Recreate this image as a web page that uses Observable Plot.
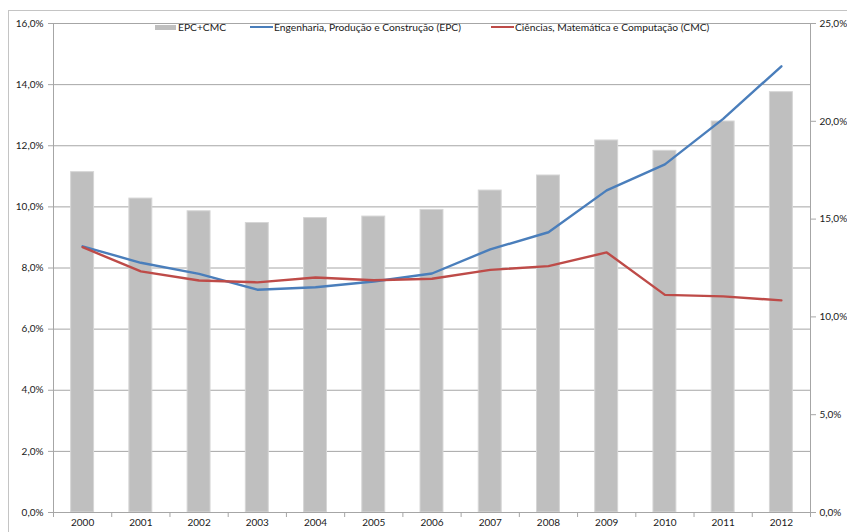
<!DOCTYPE html>
<html>
<head>
<meta charset="utf-8">
<script src="https://cdn.jsdelivr.net/npm/d3@7"></script>
<script src="https://cdn.jsdelivr.net/npm/@observablehq/plot@0.6"></script>
<style>
  html, body { margin: 0; padding: 0; background: #fff; }
  #wrap { position: relative; width: 847px; height: 532px; overflow: hidden; font-family: Lato, "Open Sans", sans-serif; }
  #frame { position: absolute; left: 8px; top: 10px; width: 900px; height: 600px; border: 1px solid #c4c4c4; box-sizing: border-box; pointer-events: none; }
  #chart { position: absolute; left: 0; top: 0; }
  .leg { position: absolute; top: 20px; font-size: 10.25px; color: #1a1a1a; white-space: nowrap; line-height: 14px; display: flex; align-items: center; }
  .sw { display: inline-block; }
</style>
</head>
<body>
<div id="wrap">
  <div id="chart"></div>
  <div id="frame"></div>
  <div class="leg" style="left:155px"><span class="sw" style="width:21px;height:5px;background:#bfbfbf;margin-right:2px"></span>EPC+CMC</div>
  <div class="leg" style="left:250px"><span class="sw" style="width:23px;height:2px;background:#4a7ebb;margin-right:1px"></span>Engenharia, Produção e Construção (EPC)</div>
  <div class="leg" style="left:491px"><span class="sw" style="width:23px;height:2px;background:#be4b48;margin-right:1px"></span>Ciências, Matemática e Computação (CMC)</div>
</div>
<script>
const years = [2000, 2001, 2002, 2003, 2004, 2005, 2006, 2007, 2008, 2009, 2010, 2011, 2012];
// EPC+CMC (right axis, %)
const epcCmc = [17.4, 16.05, 15.4, 14.8, 15.05, 15.13, 15.47, 16.46, 17.23, 19.02, 18.49, 19.99, 21.49];
// Engenharia, Produção e Construção (left axis, %)
const epc = [8.71, 8.17, 7.81, 7.29, 7.37, 7.56, 7.82, 8.61, 9.17, 10.54, 11.39, 12.88, 14.60];
// Ciências, Matemática e Computação (left axis, %)
const cmc = [8.68, 7.89, 7.59, 7.53, 7.69, 7.60, 7.65, 7.94, 8.06, 8.51, 7.12, 7.07, 6.94];
const leftTicks = [0, 2, 4, 6, 8, 10, 12, 14, 16];
const rightTicks = [0, 5, 10, 15, 20, 25];

const leftMax = 16, rightMax = 25;
const toLeft = v => v * leftMax / rightMax;
const fmt = v => v.toFixed(1).replace(".", ",") + "%";

const data = years.map((year, i) => ({year, bar: epcCmc[i], epc: epc[i], cmc: cmc[i]}));
const boundaries = [years[0] - 0.5, ...years.map(y => y + 0.5)];
const half = 0.197;
const axisColor = "#a6a6a6";

const chart = Plot.plot({
  width: 847,
  height: 532,
  marginLeft: 53,
  marginRight: 37,
  marginTop: 23,
  marginBottom: 20,
  style: {fontFamily: "Lato, 'Open Sans', sans-serif", fontSize: "10px", color: "#1a1a1a", background: "transparent", overflow: "visible"},
  x: {domain: [years[0] - 0.5, years[years.length - 1] + 0.5], axis: null},
  y: {domain: [0, leftMax], axis: null},
  marks: [
    Plot.gridY(leftTicks, {stroke: axisColor, strokeOpacity: 1, strokeWidth: 1}),
    Plot.rectY(data, {x1: d => d.year - half, x2: d => d.year + half, y1: 0, y2: d => toLeft(d.bar), fill: "#bfbfbf", stroke: "#d6d6d6", strokeWidth: 1}),
    Plot.line(data, {x: "year", y: "epc", stroke: "#4a7ebb", strokeWidth: 2.4}),
    Plot.line(data, {x: "year", y: "cmc", stroke: "#be4b48", strokeWidth: 2.4}),
    Plot.ruleX([boundaries[0], boundaries[boundaries.length - 1]], {stroke: axisColor, strokeWidth: 1}),
    Plot.ruleY([0], {stroke: axisColor, strokeWidth: 1}),
    Plot.axisY(leftTicks, {anchor: "left", label: null, tickSize: 5, tickPadding: 5, stroke: axisColor, tickFormat: fmt}),
    Plot.axisY(rightTicks.map(toLeft), {anchor: "right", label: null, tickSize: 5, tickPadding: 4, stroke: axisColor, tickFormat: v => fmt(Math.round(v * rightMax / leftMax))}),
    Plot.axisX(boundaries, {anchor: "bottom", label: null, tickSize: 5, stroke: axisColor, tickFormat: () => ""}),
    Plot.axisX(years, {anchor: "bottom", label: null, tickSize: 0, tickPadding: 6, tickFormat: d => String(d)})
  ]
});
document.getElementById("chart").appendChild(chart);
</script>
</body>
</html>
